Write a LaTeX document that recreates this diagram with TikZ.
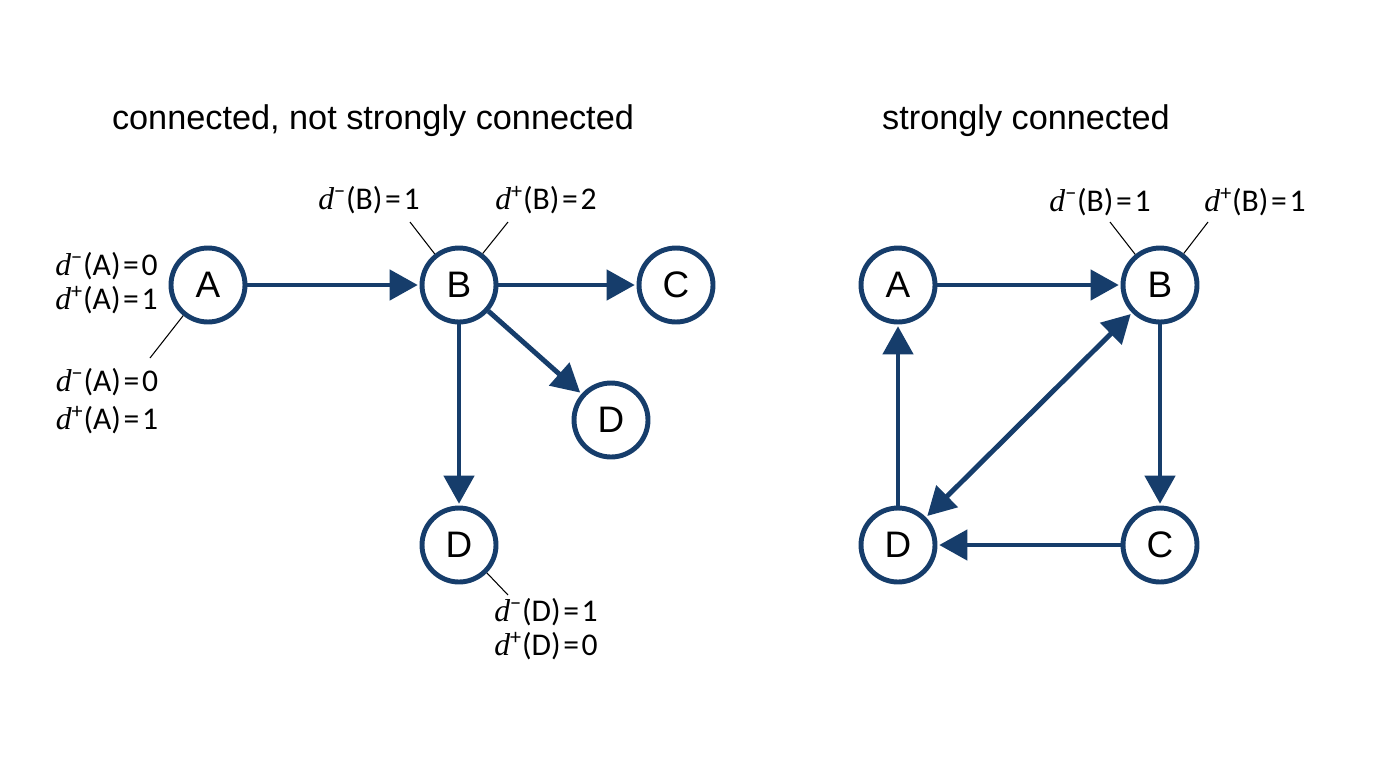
\documentclass[tikz,border=0pt]{standalone}
\usepackage{fontspec}
\setmainfont{Liberation Sans}
\newfontfamily\lblfont{Carlito}
\newfontfamily\dfont{Liberation Serif}
\usetikzlibrary{arrows.meta,calc}
\definecolor{navy}{RGB}{22,61,107}
\newcommand{\dg}[3]{{\dfont\itshape d}\textsuperscript{#1}(#2)\kern1.5pt=\kern1.5pt#3}
\tikzset{
  vertex/.style={draw=navy, circle, line width=2.8pt, minimum size=1.48cm, inner sep=0pt, fill=white, font=\fontsize{21}{24}\selectfont},
  arrow/.style={-{Triangle[length=16pt, width=17pt]}, line width=2.8pt, navy, shorten >=1pt},
  dblarrow/.style={{Triangle[length=16pt, width=17pt]}-{Triangle[length=16pt, width=17pt]}, line width=2.8pt, navy, shorten >=1pt, shorten <=1pt},
  leader/.style={line width=0.6pt, black},
  deglabel/.style={align=center, inner sep=0pt, font=\lblfont\fontsize{18}{19.5}\selectfont},
  title/.style={font=\fontsize{19.5}{23}\selectfont}
}

\begin{document}
\begin{tikzpicture}[x=0.02cm,y=-0.02cm]
  \useasboundingbox (0,0) rectangle (1376,768);

  % left graph
  \node[title] (t1) at (373,121) {connected, not strongly connected};
  \node[vertex] (A) at (208,285) {A};
  \node[vertex] (B) at (459,285) {B};
  \node[vertex] (C) at (676,285) {C};
  \node[vertex] (D1) at (611,420) {D};
  \node[vertex] (D2) at (459,545) {D};
  \draw[arrow] (A) -- (B);
  \draw[arrow] (B) -- (C);
  \draw[arrow] (B) -- (D1);
  \draw[arrow] (B) -- (D2);

  \node[deglabel, align=right, anchor=east] (la1) at (158,283) {\dg{−}{A}{0}\\\dg{+}{A}{1}};
  \node[deglabel, font=\lblfont\fontsize{18}{21.5}\selectfont] (la2) at (107,401) {\dg{−}{A}{0}\\\dg{+}{A}{1}};
  \coordinate (ca) at (150,358);
  \draw[leader] (ca) -- (A.231);

  \node[deglabel] (lb1) at (369,200) {\dg{−}{B}{1}};
  \node[deglabel] (lb2) at (546,200) {\dg{+}{B}{2}};
  \coordinate (cb1) at (410,222);
  \coordinate (cb2) at (508,222);
  \draw[leader] (cb1) -- (B.128);
  \draw[leader] (cb2) -- (B.53);

  \node[deglabel] (ld) at (546,629) {\dg{−}{D}{1}\\\dg{+}{D}{0}};
  \coordinate (cd) at (508,595);
  \draw[leader] (cd) -- (D2.-45);

  % right graph
  \node[title] (t2) at (1026,121) {strongly connected};
  \node[vertex] (RA) at (898,285) {A};
  \node[vertex] (RB) at (1160,285) {B};
  \node[vertex] (RC) at (1160,545) {C};
  \node[vertex] (RD) at (898,545) {D};
  \draw[arrow] (RA) -- (RB);
  \draw[arrow] (RB) -- (RC);
  \draw[arrow] (RC) -- (RD);
  \draw[arrow] (RD) -- (RA);
  \draw[dblarrow] (RD) -- (RB);

  \node[deglabel] (lrb1) at (1100,202) {\dg{−}{B}{1}};
  \node[deglabel] (lrb2) at (1255,202) {\dg{+}{B}{1}};
  \coordinate (crb1) at (1110,222);
  \coordinate (crb2) at (1208,222);
  \draw[leader] (crb1) -- (RB.129);
  \draw[leader] (crb2) -- (RB.53);
\end{tikzpicture}
\end{document}
